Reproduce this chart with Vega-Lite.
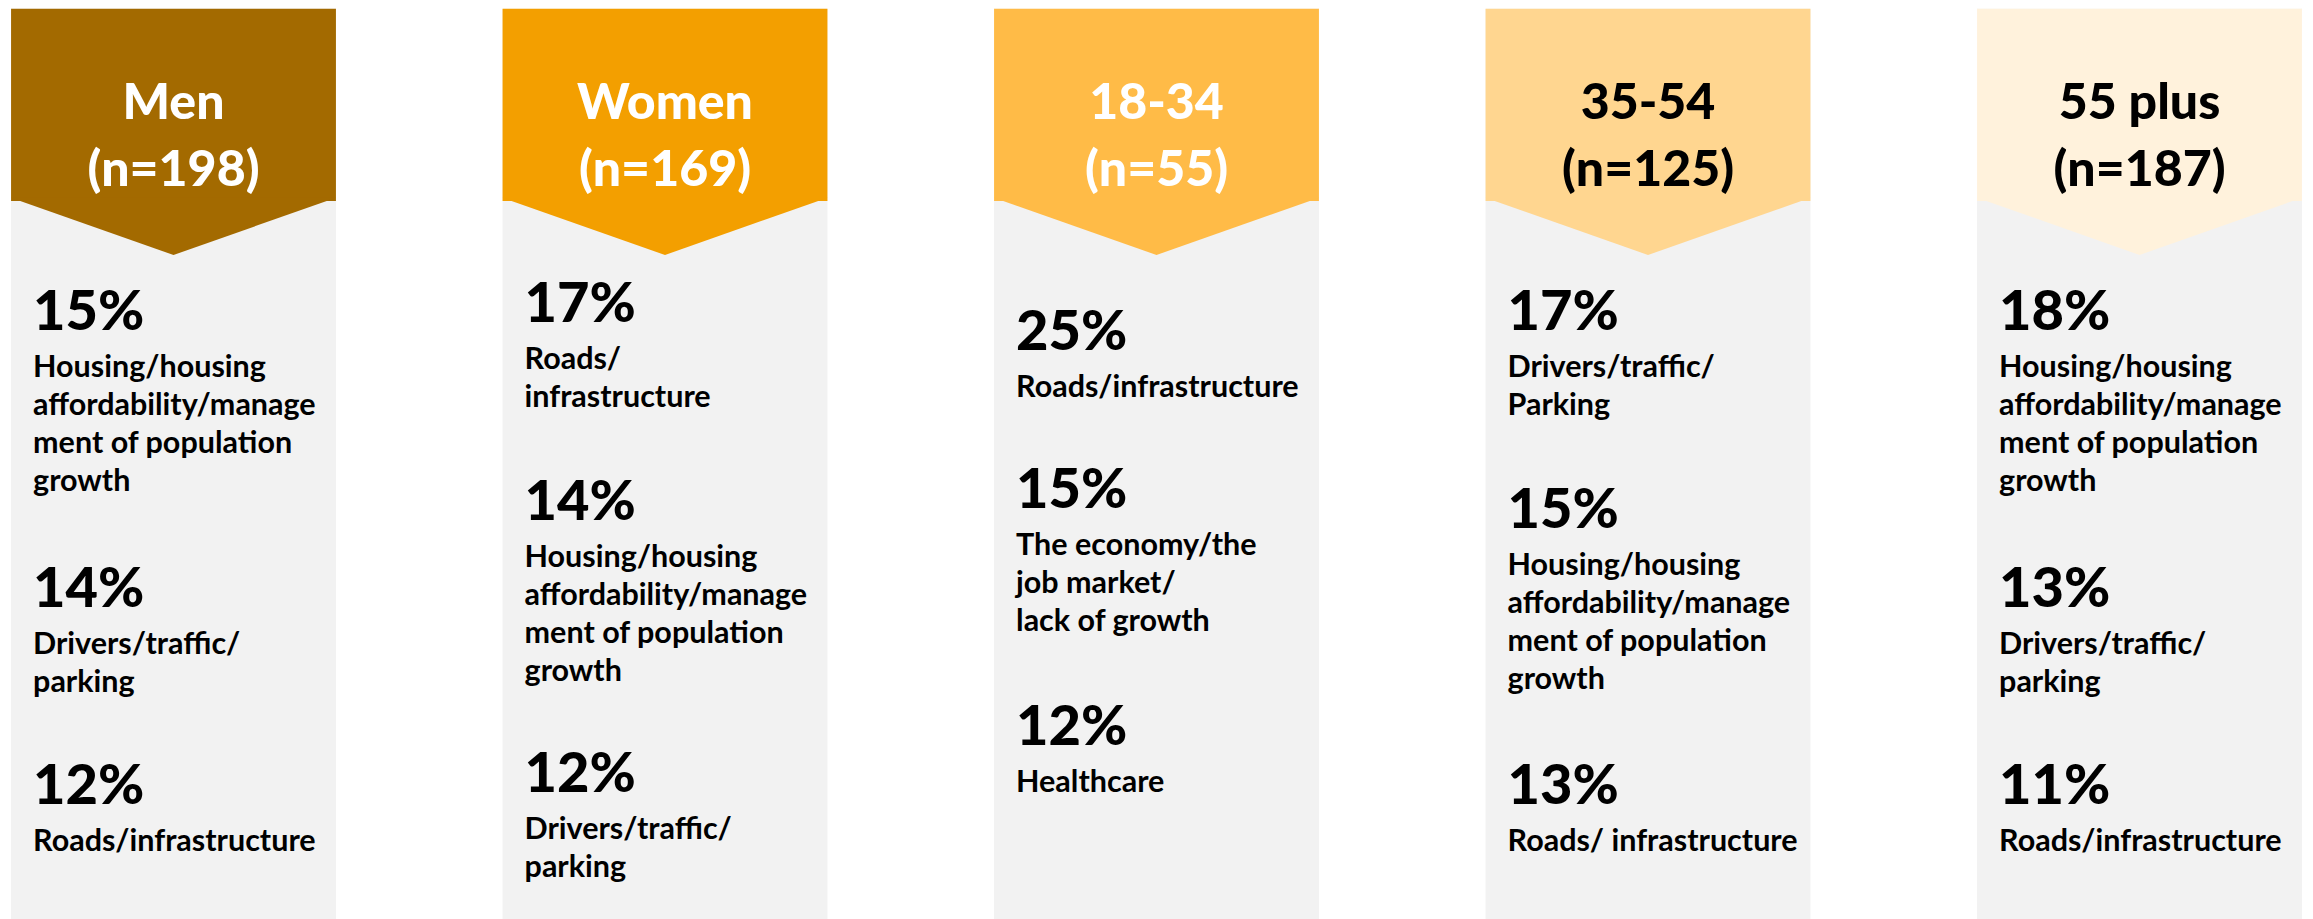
{
  "$schema": "https://vega.github.io/schema/vega-lite/v6.json",
  "autosize": {"type": "fit", "contains": "padding"},
  "width": 2313,
  "height": 919,
  "padding": 0,
  "background": "white",
  "config": {"view": {"stroke": null}},
  "datasets": {
    "groups": [
      {"group": "Men", "header": ["Men", "(n=198)"]},
      {"group": "Women", "header": ["Women", "(n=169)"]},
      {"group": "18-34", "header": ["18-34", "(n=55)"]},
      {"group": "35-54", "header": ["35-54", "(n=125)"]},
      {"group": "55 plus", "header": ["55 plus", "(n=187)"]}
    ],
    "items": [
      {"group": "Men", "rank": 1, "line": 0, "pct": "15%", "label": ["Housing/housing", "affordability/manage", "ment of population", "growth"]},
      {"group": "Men", "rank": 2, "line": 7, "pct": "14%", "label": ["Drivers/traffic/", "parking"]},
      {"group": "Men", "rank": 3, "line": 12, "pct": "12%", "label": ["Roads/infrastructure"]},
      {"group": "Women", "rank": 1, "line": -0.2, "pct": "17%", "label": ["Roads/", "infrastructure"]},
      {"group": "Women", "rank": 2, "line": 4.8, "pct": "14%", "label": ["Housing/housing", "affordability/manage", "ment of population", "growth"]},
      {"group": "Women", "rank": 3, "line": 11.7, "pct": "12%", "label": ["Drivers/traffic/", "parking"]},
      {"group": "18-34", "rank": 1, "line": 0.5, "pct": "25%", "label": ["Roads/infrastructure"]},
      {"group": "18-34", "rank": 2, "line": 4.5, "pct": "15%", "label": ["The economy/the", "job market/", "lack of growth"]},
      {"group": "18-34", "rank": 3, "line": 10.5, "pct": "12%", "label": ["Healthcare"]},
      {"group": "35-54", "rank": 1, "line": 0, "pct": "17%", "label": ["Drivers/traffic/", "Parking"]},
      {"group": "35-54", "rank": 2, "line": 5, "pct": "15%", "label": ["Housing/housing", "affordability/manage", "ment of population", "growth"]},
      {"group": "35-54", "rank": 3, "line": 12, "pct": "13%", "label": ["Roads/ infrastructure"]},
      {"group": "55 plus", "rank": 1, "line": 0, "pct": "18%", "label": ["Housing/housing", "affordability/manage", "ment of population", "growth"]},
      {"group": "55 plus", "rank": 2, "line": 7, "pct": "13%", "label": ["Drivers/traffic/", "parking"]},
      {"group": "55 plus", "rank": 3, "line": 12, "pct": "11%", "label": ["Roads/infrastructure"]}
    ]
  },
  "encoding": {
    "x": {
      "field": "group",
      "type": "nominal",
      "sort": null,
      "scale": {"domain": ["Men", "Women", "18-34", "35-54", "55 plus"], "paddingInner": 0.339, "paddingOuter": 0.0225},
      "axis": null
    }
  },
  "layer": [
    {
      "data": {"name": "groups"},
      "mark": {"type": "rect", "fill": "#F2F2F2"},
      "encoding": {
        "y": {"datum": -8.13, "type": "quantitative", "scale": {"domain": [-8.354, 14.911], "reverse": true, "nice": false, "zero": false}, "axis": null},
        "y2": {"datum": 14.911}
      }
    },
    {
      "data": {"name": "groups"},
      "mark": {"type": "rect"},
      "encoding": {
        "y": {"datum": -8.13, "type": "quantitative"},
        "y2": {"datum": -3.266},
        "fill": {"field": "group", "type": "nominal", "scale": {"domain": ["Men", "Women", "18-34", "35-54", "55 plus"], "range": ["#A36A00", "#F39F00", "#FFBB47", "#FFD690", "#FFF2DC"]}, "legend": null}
      }
    },
    {
      "data": {"name": "groups"},
      "mark": {"type": "point", "shape": "M-1,-0.02L1,-0.02L0,0.332Z", "size": 105625, "filled": true, "opacity": 1, "strokeWidth": 0},
      "encoding": {
        "y": {"datum": -3.266, "type": "quantitative"},
        "fill": {"field": "group", "type": "nominal", "legend": null}
      }
    },
    {
      "data": {"name": "groups"},
      "mark": {"type": "text", "font": "Lato", "fontWeight": 900, "fontSize": 50, "lineHeight": 67, "align": "center", "baseline": "alphabetic"},
      "encoding": {
        "y": {"datum": -5.33, "type": "quantitative"},
        "text": {"field": "header"},
        "color": {"condition": {"test": "indexof(['35-54', '55 plus'], datum.group) >= 0", "value": "#000000"}, "value": "#FFFFFF"}
      }
    },
    {
      "data": {"name": "items"},
      "mark": {"type": "text", "font": "Lato", "fontWeight": 900, "fontSize": 56, "align": "left", "baseline": "alphabetic", "dx": 22, "color": "#000000"},
      "encoding": {
        "x": {"field": "group", "type": "nominal", "bandPosition": 0},
        "y": {"field": "line", "type": "quantitative"},
        "text": {"field": "pct"}
      }
    },
    {
      "data": {"name": "items"},
      "mark": {"type": "text", "font": "Lato", "fontWeight": "bold", "fontSize": 30.5, "lineHeight": 38, "align": "left", "baseline": "alphabetic", "dx": 22, "dy": 47, "color": "#000000"},
      "encoding": {
        "x": {"field": "group", "type": "nominal", "bandPosition": 0},
        "y": {"field": "line", "type": "quantitative"},
        "text": {"field": "label"}
      }
    }
  ]
}
